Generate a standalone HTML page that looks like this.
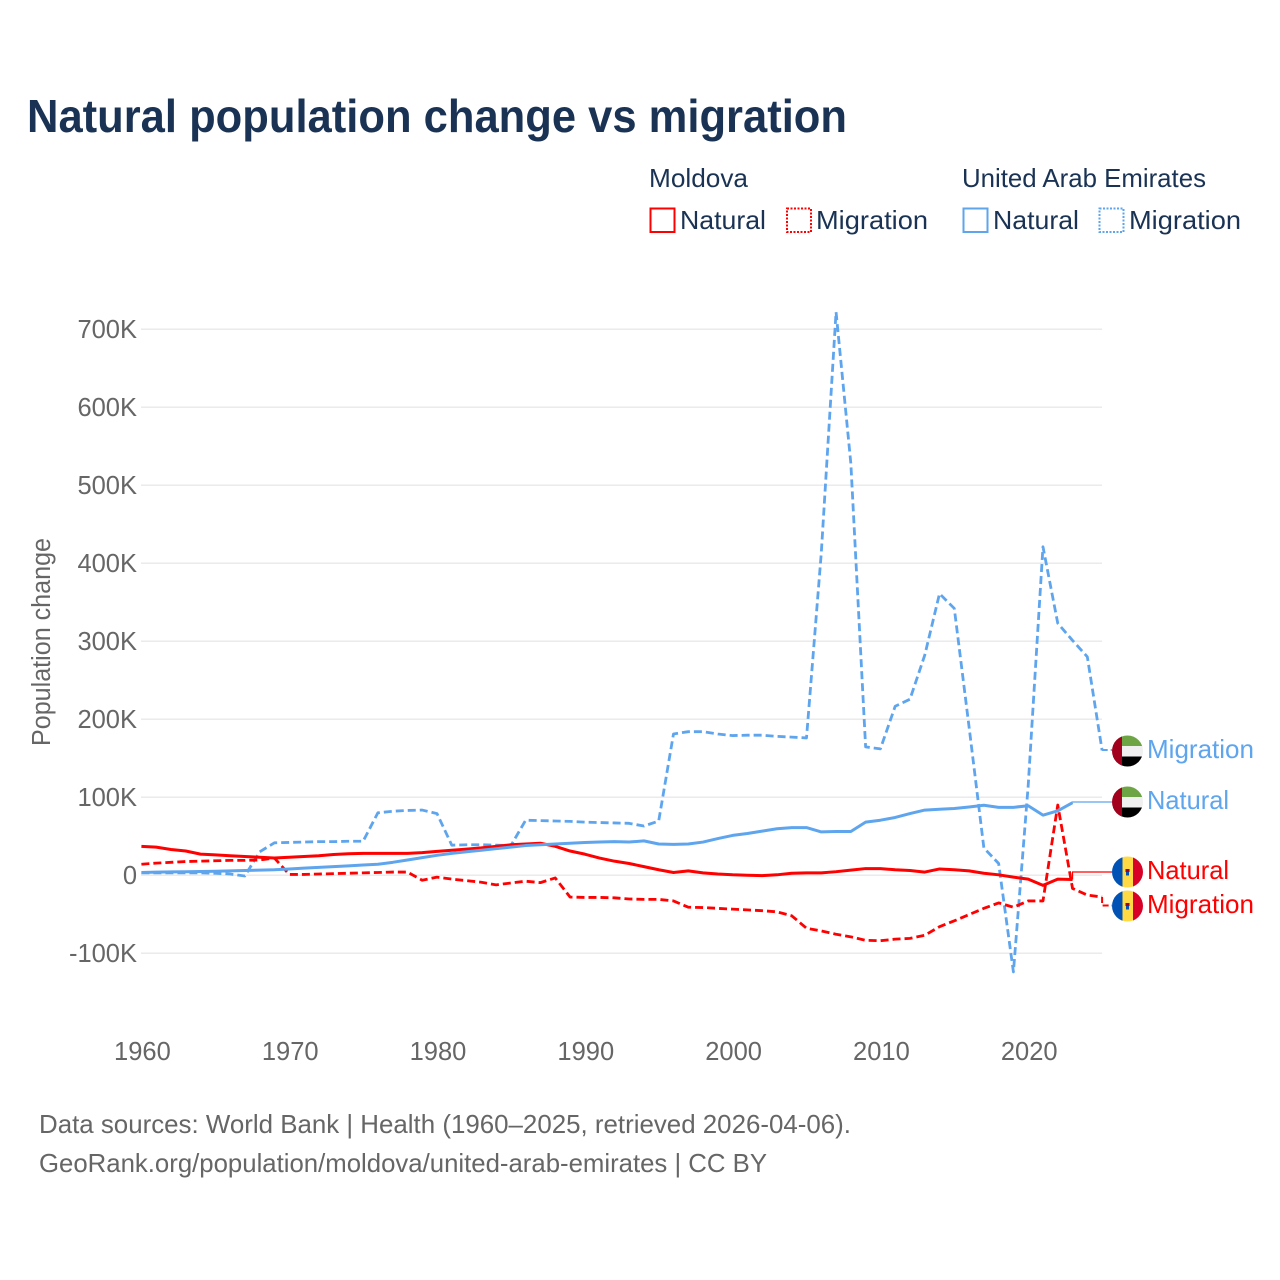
<!DOCTYPE html>
<html lang="en">
<head>
<meta charset="utf-8">
<title>Natural population change vs migration</title>
<style>
html,body{margin:0;padding:0;background:#fff;}
svg{display:block;font-family:"Liberation Sans",sans-serif;}
.lg{font-size:26px;fill:#1a3354;}
.tick{font-size:25.5px;fill:#666;}
.foot{font-size:26px;fill:#666;}
</style>
</head>
<body>
<svg id="chart" xmlns="http://www.w3.org/2000/svg" width="1280" height="1280" viewBox="0 0 1280 1280">
  <rect x="0" y="0" width="1280" height="1280" fill="#fff"/>
  <text x="27" y="132" font-size="46" font-weight="700" fill="#1a3354" textLength="820" lengthAdjust="spacingAndGlyphs">Natural population change vs migration</text>

  <g>
    <text class="lg" x="649" y="187" textLength="99" lengthAdjust="spacingAndGlyphs">Moldova</text>
    <text class="lg" x="962" y="187" textLength="244" lengthAdjust="spacingAndGlyphs">United Arab Emirates</text>
    <rect x="650.5" y="208.5" width="24" height="23.5" fill="none" stroke="#ff0000" stroke-width="2"/>
    <text class="lg" x="680" y="229" textLength="86" lengthAdjust="spacingAndGlyphs">Natural</text>
    <rect x="787" y="208.5" width="24" height="23.5" fill="none" stroke="#ff0000" stroke-width="2" stroke-dasharray="2 1.5"/>
    <text class="lg" x="816" y="229" textLength="112" lengthAdjust="spacingAndGlyphs">Migration</text>
    <rect x="963.5" y="208.5" width="24" height="23.5" fill="none" stroke="#5ea5ee" stroke-width="2"/>
    <text class="lg" x="993" y="229" textLength="86" lengthAdjust="spacingAndGlyphs">Natural</text>
    <rect x="1099.5" y="208.5" width="24" height="23.5" fill="none" stroke="#5ea5ee" stroke-width="2" stroke-dasharray="2 1.5"/>
    <text class="lg" x="1129" y="229" textLength="112" lengthAdjust="spacingAndGlyphs">Migration</text>
  </g>

  <g id="grid"></g>
  <g id="yticks"></g>
  <g id="xticks"></g>
  <text class="tick" transform="translate(50,642) rotate(-90)" text-anchor="middle" textLength="208" lengthAdjust="spacingAndGlyphs">Population change</text>
  <g id="connectors"></g>
  <g id="series"></g>

  <g>
    <defs>
      <clipPath id="c1"><circle cx="1127.5" cy="751" r="15.5"/></clipPath>
      <clipPath id="c2"><circle cx="1127.5" cy="802" r="15.5"/></clipPath>
      <clipPath id="c3"><circle cx="1127.5" cy="872" r="15.5"/></clipPath>
      <clipPath id="c4"><circle cx="1127.5" cy="906" r="15.5"/></clipPath>
    </defs>
    <g clip-path="url(#c1)">
      <rect x="1112" y="735" width="31" height="11.5" fill="#6da544"/>
      <rect x="1112" y="746" width="31" height="10.5" fill="#f0f0f0"/>
      <rect x="1112" y="756.5" width="31" height="11" fill="#000"/>
      <rect x="1112" y="735" width="10" height="32" fill="#a2001d"/>
    </g>
    <g clip-path="url(#c2)">
      <rect x="1112" y="786" width="31" height="11.5" fill="#6da544"/>
      <rect x="1112" y="797" width="31" height="10.5" fill="#f0f0f0"/>
      <rect x="1112" y="807.5" width="31" height="11" fill="#000"/>
      <rect x="1112" y="786" width="10" height="32" fill="#a2001d"/>
    </g>
    <g clip-path="url(#c3)">
      <rect x="1112" y="856" width="10.5" height="32" fill="#0052b4"/>
      <rect x="1122.5" y="856" width="10.5" height="32" fill="#ffda44"/>
      <rect x="1133" y="856" width="10" height="32" fill="#d80027"/>
      <rect x="1125.5" y="869" width="4" height="3" fill="#a2001d"/>
      <rect x="1126" y="872" width="3" height="3.5" fill="#0052b4"/>
    </g>
    <g clip-path="url(#c4)">
      <rect x="1112" y="890" width="10.5" height="32" fill="#0052b4"/>
      <rect x="1122.5" y="890" width="10.5" height="32" fill="#ffda44"/>
      <rect x="1133" y="890" width="10" height="32" fill="#d80027"/>
      <rect x="1125.5" y="903" width="4" height="3" fill="#a2001d"/>
      <rect x="1126" y="906" width="3" height="3.5" fill="#0052b4"/>
    </g>
    <text x="1147" y="758" font-size="26" fill="#5ea5ee" textLength="107" lengthAdjust="spacingAndGlyphs">Migration</text>
    <text x="1147" y="809" font-size="26" fill="#5ea5ee" textLength="82" lengthAdjust="spacingAndGlyphs">Natural</text>
    <text x="1147" y="879" font-size="26" fill="#ff0000" textLength="82" lengthAdjust="spacingAndGlyphs">Natural</text>
    <text x="1147" y="913" font-size="26" fill="#ff0000" textLength="107" lengthAdjust="spacingAndGlyphs">Migration</text>
  </g>

  <text class="foot" x="39" y="1133" textLength="812" lengthAdjust="spacingAndGlyphs">Data sources: World Bank | Health (1960–2025, retrieved 2026-04-06).</text>
  <text class="foot" x="39" y="1172" textLength="728" lengthAdjust="spacingAndGlyphs">GeoRank.org/population/moldova/united-arab-emirates | CC BY</text>
</svg>
<script>
// Values in thousands of people, years run consecutively from startYear.
const startYear = 1960;
const yTickValues = [700, 600, 500, 400, 300, 200, 100, 0, -100];
const yTickLabels = ["700K", "600K", "500K", "400K", "300K", "200K", "100K", "0", "-100K"];
const xTickYears = [1960, 1970, 1980, 1990, 2000, 2010, 2020];
const moldovaNatural = [37,36,33,31,27,26,25,24,23,22,23,24,25,26.5,27.5,28,28,28,28,29,30.5,32,33.5,35,37,39,40,41,37,31,27,22,18,15,11,7,3.5,5.5,3,1.5,0.5,0,-0.5,0.5,2.5,3,3,4.5,6.5,8.5,8.5,7,6,4,8,7,5.5,2.5,0.5,-2.5,-5,-13,-5,-5.5];
const moldovaMigration = [14,15.5,16.5,17.5,18,18.5,19,19,19.5,22,1,1,1.5,2,2.5,3,3.5,4,4,-6.5,-2.5,-5,-7,-9,-12.4,-10,-7.7,-9.5,-3.5,-28,-28.5,-28.5,-29,-30.5,-31,-31,-33,-41,-41.5,-42.5,-43.5,-44.5,-45.5,-47,-52,-68,-71.5,-75.7,-79,-83.5,-84,-82,-81,-77,-66,-58.5,-50.5,-42.5,-35.5,-41,-33,-33,90,-17,-25.5,-28];
const uaeNatural = [3.5,4,4.2,4.5,4.8,5,5.5,6,6.5,7,8,9,10,11,12,13,14,16.5,19.5,22.5,25.5,28,30,32,34,36,38,39,40,41,42,42.5,43,42.5,44,40,39.5,40,42.5,47,51,53.5,56.5,59.5,61,61,55.5,56,56,68,70.5,74,79,83.5,84.6,85.5,87.5,89.7,87,87,89,77,82.5,93];
const uaeMigration = [3,3,3,3,3,2.5,1.5,-1,30,41.5,42,42.5,43,43,43.5,43.5,80,82,83,83.5,79,38.5,39,39,38.5,38,70.5,70,69.5,69,68,67.5,67,66.5,63,69.5,181,184,184,181,179,179.5,179.5,178,177,176,413,722,528,164.5,162,216.6,225.6,282,361,342,190,35,15,-124,115,421,323,301,280,160];

const NS = "http://www.w3.org/2000/svg";
const plotLeft = 141.4, pxPerYear = 14.78, zeroY = 875.2, pxPerK = 0.78, plotRight = 1102;
function xScale(year) { return plotLeft + (year - startYear) * pxPerYear; }
function yScale(k) { return zeroY - k * pxPerK; }
function make(tag, attrs, parent) {
  const el = document.createElementNS(NS, tag);
  for (const k in attrs) el.setAttribute(k, attrs[k]);
  parent.appendChild(el);
  return el;
}
const grid = document.getElementById("grid");
const yticks = document.getElementById("yticks");
const xticks = document.getElementById("xticks");
const seriesG = document.getElementById("series");
const connG = document.getElementById("connectors");

yTickValues.forEach(function (v, i) {
  const line = make("line", {x1: 141, x2: plotRight, y1: yScale(v), y2: yScale(v), stroke: "#e8e8e8", "stroke-width": 1.3}, grid);
  
  
  const t = make("text", {x: 137, y: yScale(v) + 9, "text-anchor": "end", class: "tick"}, yticks);
  t.textContent = yTickLabels[i];
  
  
});
xTickYears.forEach(function (yr) {
  const t = make("text", {x: xScale(yr) + 1, y: 1060, "text-anchor": "middle", class: "tick"}, xticks);
  t.textContent = String(yr);
  
  
});

function linePath(values) {
  return values.map(function (v, i) {
    return (i ? "L" : "M") + xScale(startYear + i).toFixed(2) + " " + yScale(v).toFixed(2);
  }).join(" ");
}
function addSeries(values, color, dashed, name) {
  const p = make("path", {d: linePath(values), fill: "none", stroke: color, "stroke-width": dashed ? 2.8 : 3, "stroke-linejoin": "round"}, seriesG);
  if (dashed) p.setAttribute("stroke-dasharray", "8 4");
  
  
}
function addConnector(values, color, dashed, labelY, name) {
  const lastX = xScale(startYear + values.length - 1);
  const lastY = yScale(values[values.length - 1]);
  const p = make("path", {d: "M" + lastX + " " + lastY + " V" + labelY + " H1112", fill: "none", stroke: color, "stroke-width": dashed ? 2 : 1.2}, connG);
  if (dashed) p.setAttribute("stroke-dasharray", "6 3");
  
  
}
const red = "#ff0000", blue = "#5ea5ee";
addConnector(uaeMigration, blue, true, 750, "connector-uae-migration");
addConnector(uaeNatural, blue, false, 802, "connector-uae-natural");
addConnector(moldovaNatural, red, false, 872, "connector-moldova-natural");
addConnector(moldovaMigration, red, true, 905.5, "connector-moldova-migration");
addSeries(uaeMigration, blue, true, "line-uae-migration");
addSeries(moldovaMigration, red, true, "line-moldova-migration");
addSeries(moldovaNatural, red, false, "line-moldova-natural");
addSeries(uaeNatural, blue, false, "line-uae-natural");
</script>
</body>
</html>
